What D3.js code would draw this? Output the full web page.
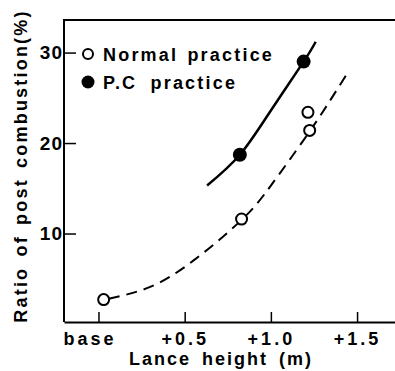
<!DOCTYPE html>
<html>
<head>
<meta charset="utf-8">
<script src="https://cdn.jsdelivr.net/npm/d3@7"></script>
<style>
  body { margin: 0; background: #fff; }
  text { font-family: 'Liberation Sans', Arial, sans-serif; font-weight: bold; fill: #000; }
</style>
</head>
<body>
<div id="chart"></div>
<script>
const width = 395;
const height = 371;

// data
const xTickValues = [0, 0.5, 1.0, 1.5];
const xTickLabels = ['base', '+0.5', '+1.0', '+1.5'];
const yTickValues = [10, 20, 30];

const normalX = [0.03, 0.83, 1.215, 1.225];
const normalY = [2.7, 11.6, 23.4, 21.4];
const pcX = [0.82, 1.19];
const pcY = [18.7, 29.0];

// fitted curves as drawn
const normalCurveX = [0.06, 0.3, 0.55, 0.83, 1.0, 1.2, 1.33, 1.44];
const normalCurveY = [2.8, 4.1, 7.0, 11.5, 15.3, 20.6, 24.3, 27.6];
const pcCurveX = [0.63, 0.82, 1.0, 1.19, 1.26];
const pcCurveY = [15.3, 18.7, 23.6, 29.0, 31.2];

buildChart();

function buildChart() {

    const svg = d3.select('#chart')
        .append('svg')
        .attr('width', width)
        .attr('height', height);

    const x = d3.scaleLinear()
        .domain([-0.2, 1.72])
        .range([64, 395]);

    const y = d3.scaleLinear()
        .domain([0, 33.6])
        .range([324, 20]);

    const bottomY = 322;

    // frame: left and top lines
    svg.append('path')
        .attr('d', `M${x(1.72)},20 H64 V${bottomY}`)
        .attr('fill', 'none')
        .attr('stroke', '#000')
        .attr('stroke-width', 2);

    let xAxis = svg.append('g')
        .attr('transform', `translate(0, ${bottomY})`)
        .call(d3.axisBottom(x)
            .tickValues(xTickValues)
            .tickFormat((d, i) => xTickLabels[i])
            .tickSizeInner(-10)
            .tickSizeOuter(0)
            .tickPadding(10));

    xAxis.select('.domain').attr('stroke-width', 2);
    xAxis.selectAll('.tick line').attr('stroke-width', 1.5);
    xAxis.selectAll('.tick text')
        .attr('font-family', null)
        .attr('font-size', 18)
        .style('letter-spacing', '3px');
    xAxis.selectAll('.tick')
        .filter((d) => d === 0)
        .select('text')
        .attr('dx', -9);

    let yAxis = svg.append('g')
        .attr('transform', 'translate(64, 0)')
        .call(d3.axisLeft(y)
            .tickValues(yTickValues)
            .tickSizeInner(-12)
            .tickSizeOuter(0)
            .tickPadding(1));

    yAxis.select('.domain').remove();
    yAxis.selectAll('.tick line').attr('stroke-width', 1.5);
    yAxis.selectAll('.tick text')
        .attr('font-family', null)
        .attr('font-size', 19)
        .style('letter-spacing', '1px');

    // axis titles
    svg.append('text')
        .attr('x', 221)
        .attr('y', 365)
        .attr('text-anchor', 'middle')
        .attr('font-size', 18)
        .style('letter-spacing', '2px')
        .style('word-spacing', '4px')
        .text('Lance height (m)');

    svg.append('text')
        .attr('transform', 'translate(27, 166) rotate(-90)')
        .attr('text-anchor', 'middle')
        .attr('font-size', 18)
        .style('letter-spacing', '2.2px')
        .style('word-spacing', '3px')
        .text('Ratio of post combustion(%)');

    // curves
    const line = d3.line()
        .x((d) => x(d[0]))
        .y((d) => y(d[1]))
        .curve(d3.curveNatural);

    svg.append('path')
        .datum(d3.zip(normalCurveX, normalCurveY))
        .attr('d', line)
        .attr('fill', 'none')
        .attr('stroke', '#000')
        .attr('stroke-width', 2)
        .attr('stroke-dasharray', '11,7');

    svg.append('path')
        .datum(d3.zip(pcCurveX, pcCurveY))
        .attr('d', line)
        .attr('fill', 'none')
        .attr('stroke', '#000')
        .attr('stroke-width', 2.5);

    // points
    svg.selectAll('.normal')
        .data(d3.zip(normalX, normalY))
        .enter()
        .append('circle')
        .attr('class', 'normal')
        .attr('cx', (d) => x(d[0]))
        .attr('cy', (d) => y(d[1]))
        .attr('r', 5.5)
        .attr('fill', '#fff')
        .attr('stroke', '#000')
        .attr('stroke-width', 2);

    svg.selectAll('.pc')
        .data(d3.zip(pcX, pcY))
        .enter()
        .append('circle')
        .attr('class', 'pc')
        .attr('cx', (d) => x(d[0]))
        .attr('cy', (d) => y(d[1]))
        .attr('r', 7)
        .attr('fill', '#000');

    // legend
    let legend = svg.append('g');

    legend.append('circle')
        .attr('cx', 88)
        .attr('cy', 54)
        .attr('r', 5)
        .attr('fill', '#fff')
        .attr('stroke', '#000')
        .attr('stroke-width', 2);

    legend.append('text')
        .attr('x', 103)
        .attr('y', 60.5)
        .attr('font-size', 18)
        .style('letter-spacing', '2.2px')
        .style('word-spacing', '2px')
        .text('Normal practice');

    legend.append('circle')
        .attr('cx', 88)
        .attr('cy', 82)
        .attr('r', 6.5)
        .attr('fill', '#000');

    legend.append('text')
        .attr('x', 103)
        .attr('y', 88.5)
        .attr('font-size', 18)
        .style('letter-spacing', '2.2px')
        .style('word-spacing', '6px')
        .text('P.C practice');
}
</script>
</body>
</html>
